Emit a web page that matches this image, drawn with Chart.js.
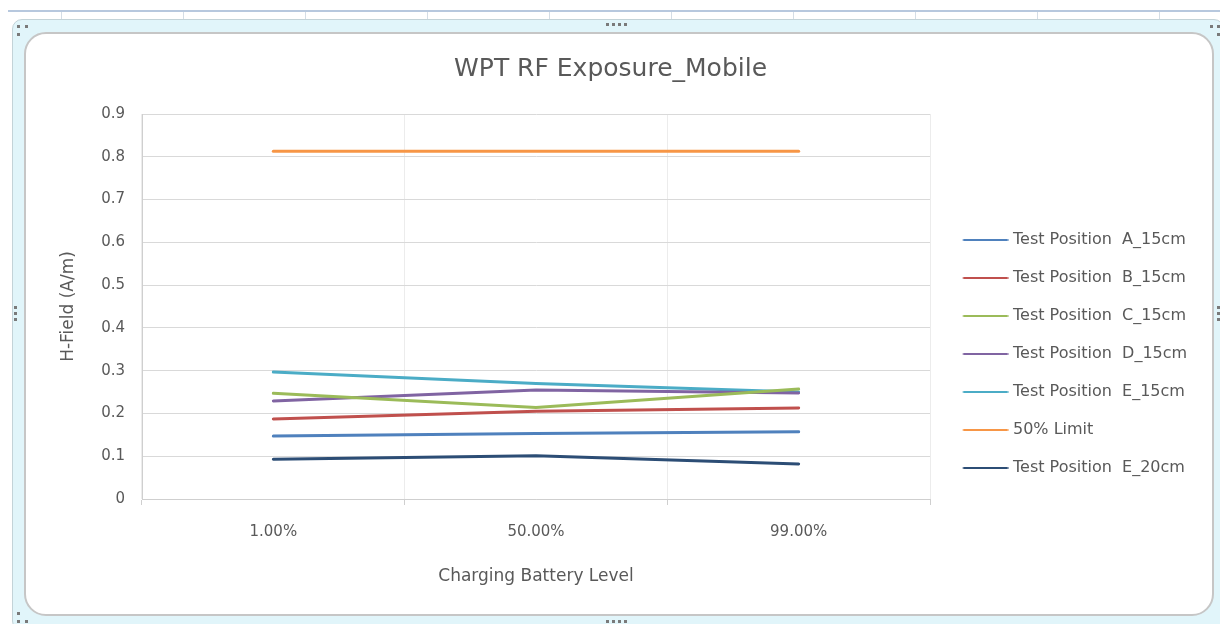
<!DOCTYPE html>
<html>
<head>
<meta charset="utf-8">
<title>WPT RF Exposure_Mobile</title>
<script src="https://cdn.jsdelivr.net/npm/chart.js@4"></script>
<style>
    html, body {
        margin: 0;
        padding: 0;
        width: 1220px;
        height: 624px;
        overflow: hidden;
        background: #ffffff;
        font-family: "DejaVu Sans", sans-serif;
    }
    /* spreadsheet cells peeking out behind the embedded chart */
    .sheet {
        position: absolute;
        left: 8px;
        top: 10px;
        width: 1212px;
        height: 614px;
        border-top: 2px solid #b7c8de;
        background-image: repeating-linear-gradient(90deg, transparent 0, transparent 53px, #d4dde6 53px, #d4dde6 54px, transparent 54px, transparent 122px);
    }
    .frame {
        position: absolute;
        left: 12px;
        top: 19px;
        width: 1212px;
        height: 612px;
        background: #e1f5fa;
        border: 1px solid #c3d3d8;
        border-radius: 10px;
        box-sizing: border-box;
    }
    .inner {
        position: absolute;
        left: 24px;
        top: 32px;
        width: 1190px;
        height: 584px;
        background: #ffffff;
        border: 2px solid #c6c6c6;
        border-radius: 22px;
        box-sizing: border-box;
    }
    .chart-box {
        position: absolute;
        left: 24px;
        top: 32px;
        width: 1189px;
        height: 583px;
    }
    .dot {
        position: absolute;
        width: 3px;
        height: 3px;
        background: #7a7a7a;
    }
</style>
</head>
<body>
<div class="sheet"></div>
<div class="frame"></div>
<div class="inner"></div>

<!-- resize handles -->
<div class="dot" style="left:17px;top:25px"></div>
<div class="dot" style="left:25px;top:25px"></div>
<div class="dot" style="left:17px;top:33px"></div>
<div class="dot" style="left:1210px;top:25px"></div>
<div class="dot" style="left:1217px;top:25px"></div>
<div class="dot" style="left:1217px;top:33px"></div>
<div class="dot" style="left:17px;top:612px"></div>
<div class="dot" style="left:17px;top:620px"></div>
<div class="dot" style="left:25px;top:620px"></div>
<div class="dot" style="left:606px;top:23px"></div>
<div class="dot" style="left:612px;top:23px"></div>
<div class="dot" style="left:618px;top:23px"></div>
<div class="dot" style="left:624px;top:23px"></div>
<div class="dot" style="left:606px;top:620px"></div>
<div class="dot" style="left:612px;top:620px"></div>
<div class="dot" style="left:618px;top:620px"></div>
<div class="dot" style="left:624px;top:620px"></div>
<div class="dot" style="left:14px;top:306px"></div>
<div class="dot" style="left:14px;top:312px"></div>
<div class="dot" style="left:14px;top:318px"></div>
<div class="dot" style="left:1217px;top:306px"></div>
<div class="dot" style="left:1217px;top:312px"></div>
<div class="dot" style="left:1217px;top:318px"></div>

<div class="chart-box">
    <canvas id="exposureChart" width="1189" height="583"></canvas>
</div>

<script>
// Chart data
const categories = ['1.00%', '50.00%', '99.00%'];
const yTickLabels = ['0', '0.1', '0.2', '0.3', '0.4', '0.5', '0.6', '0.7', '0.8', '0.9'];

const posA15 = [0.147, 0.153, 0.157];
const posB15 = [0.187, 0.205, 0.213];
const posC15 = [0.247, 0.214, 0.257];
const posD15 = [0.229, 0.255, 0.248];
const posE15 = [0.297, 0.270, 0.250];
const limit50 = [0.813, 0.813, 0.813];
const posE20 = [0.093, 0.101, 0.082];

const FONT = '"DejaVu Sans", sans-serif';
const TEXT_COLOR = '#595959';
const LEGEND_SIZE = 16;
const LEGEND_PAD = 22;
const LEGEND_BOX = 53;      // room reserved before the label text
const SWATCH_W = 60;        // swatch image, centred on the box
const SWATCH_LINE = [14.5, 59.5];

// Legend swatch: short 2px line, shifted right inside the box
function lineSwatch(color) {
    const c = document.createElement('canvas');
    c.width = SWATCH_W;
    c.height = 4;
    const g = c.getContext('2d');
    g.strokeStyle = color;
    g.lineWidth = 2;
    g.beginPath();
    g.moveTo(SWATCH_LINE[0], 2);
    g.lineTo(SWATCH_LINE[1], 2);
    g.stroke();
    return c;
}

function series(label, data, color) {
    return {
        label: label,
        data: data,
        borderColor: color,
        backgroundColor: color,
        borderWidth: 3,
        borderCapStyle: 'round',
        pointRadius: 0,
        pointHoverRadius: 0,
        pointStyle: lineSwatch(color),
        tension: 0,
        fill: false
    };
}

const datasets = [
    series('Test Position  A_15cm', posA15, '#4f81bd'),
    series('Test Position  B_15cm', posB15, '#c0504d'),
    series('Test Position  C_15cm', posC15, '#9bbb59'),
    series('Test Position  D_15cm', posD15, '#8064a2'),
    series('Test Position  E_15cm', posE15, '#4bacc6'),
    series('50% Limit', limit50, '#f79646'),
    series('Test Position  E_20cm', posE20, '#2c4d75')
];

// Work out how much room the legend takes so the plot ends where it should
const measureCtx = document.createElement('canvas').getContext('2d');
measureCtx.font = LEGEND_SIZE + 'px ' + FONT;
const widestLabel = Math.max(...datasets.map(d => measureCtx.measureText(d.label).width));
const legendWidth = LEGEND_PAD + LEGEND_BOX + LEGEND_SIZE / 2 + widestLabel + 10;
const plotRight = 906;
const rightPad = Math.max(0, 1189 - plotRight - legendWidth);

const ctx = document.getElementById('exposureChart').getContext('2d');

const chart = new Chart(ctx, {
    type: 'line',
    data: {
        labels: categories,
        datasets: datasets
    },
    options: {
        responsive: false,
        animation: false,
        devicePixelRatio: 1,
        layout: {
            padding: { left: 0, right: rightPad, top: 0, bottom: 0 }
        },
        plugins: {
            title: {
                display: true,
                text: 'WPT RF Exposure_Mobile',
                color: TEXT_COLOR,
                font: { family: FONT, size: 25, weight: 'normal', lineHeight: 1.2 },
                padding: { top: 22, bottom: 30 }
            },
            legend: {
                display: true,
                position: 'right',
                align: 'center',
                title: {
                    display: true,
                    text: ' ',
                    font: { size: 10, lineHeight: 1 },
                    padding: { top: 51, bottom: 0 }
                },
                labels: {
                    color: TEXT_COLOR,
                    font: { family: FONT, size: LEGEND_SIZE },
                    usePointStyle: true,
                    pointStyleWidth: LEGEND_BOX,
                    padding: LEGEND_PAD
                }
            },
            tooltip: { enabled: false }
        },
        scales: {
            x: {
                type: 'category',
                offset: true,
                grid: {
                    offset: true,
                    color: '#ececec',
                    tickColor: '#cfcfcf',
                    tickLength: 6,
                    drawTicks: true
                },
                border: { color: '#cfcfcf', width: 1 },
                ticks: {
                    color: TEXT_COLOR,
                    font: { family: FONT, size: 15 },
                    padding: 18,
                    maxRotation: 0
                },
                title: {
                    display: true,
                    text: 'Charging Battery Level',
                    color: TEXT_COLOR,
                    font: { family: FONT, size: 17, lineHeight: 1.2 },
                    padding: { top: 0, bottom: 28 }
                },
                afterFit: function (scale) {
                    scale.height = 116;
                }
            },
            y: {
                type: 'linear',
                position: 'left',
                min: 0,
                max: 0.9,
                grid: {
                    color: '#d9d9d9',
                    drawTicks: false
                },
                border: { color: '#cfcfcf', width: 1 },
                ticks: {
                    stepSize: 0.1,
                    color: TEXT_COLOR,
                    font: { family: FONT, size: 15 },
                    padding: 17,
                    callback: function (value, index) {
                        return yTickLabels[index];
                    }
                },
                title: {
                    display: true,
                    text: 'H-Field (A/m)',
                    color: TEXT_COLOR,
                    font: { family: FONT, size: 17, lineHeight: 1.2 },
                    padding: { top: 34, bottom: 0 }
                },
                afterFit: function (scale) {
                    scale.width = 118;
                }
            }
        }
    }
});
</script>
</body>
</html>
